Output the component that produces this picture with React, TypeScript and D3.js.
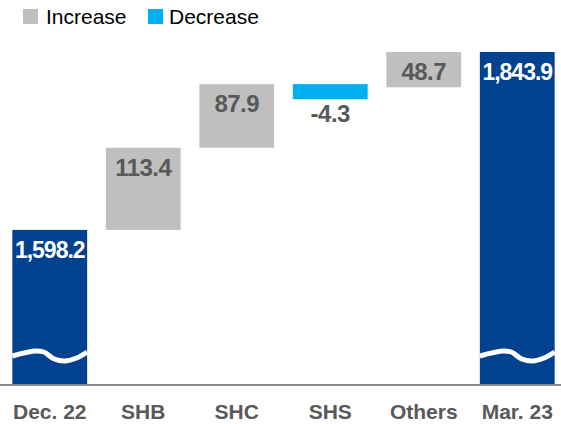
import * as d3 from "d3";

// chart data
const categories = ["Dec. 22", "SHB", "SHC", "SHS", "Others", "Mar. 23"];
const startValue = 1598.2;
const changes = [113.4, 87.9, -4.3, 48.7];
const endValue = 1843.9;
const valueLabels = ["1,598.2", "113.4", "87.9", "-4.3", "48.7", "1,843.9"];
const legendItems = ["Increase", "Decrease"];

const W = 561;
const H = 424;
const baseY = 385;
const FONT = "'Liberation Sans', Arial, sans-serif";
const GRAY = "#bfbfbf";
const CYAN = "#00b0f0";
const NAVY = "#004190";
const LABEL = "#595959";

// shape of the axis-break squiggle (fraction of bar width, px offset)
const waveShape: [number, number][] = [
  [0, 1], [0.3, -4], [0.42, -3], [0.56, 4], [0.7, 6], [0.86, 3], [1, -3],
];

type Bar = { cat: string; y0: number; y1: number; kind: "total" | "up" | "down"; label: string };

function buildBars(): Bar[] {
  const bars: Bar[] = [{ cat: categories[0], y0: 0, y1: startValue, kind: "total", label: valueLabels[0] }];
  let run = startValue;
  changes.forEach((c, i) => {
    const next = run + c;
    bars.push({ cat: categories[i + 1], y0: run, y1: next, kind: c >= 0 ? "up" : "down", label: valueLabels[i + 1] });
    run = next;
  });
  bars.push({ cat: categories[5], y0: 0, y1: endValue, kind: "total", label: valueLabels[5] });
  return bars;
}

export default function App() {
  const bars = buildBars();
  // broken axis: scale starts above zero
  const y = d3.scaleLinear().domain([1384, endValue]).range([baseY, 52]);
  const x = d3.scaleBand().domain(categories).range([3, 564]).paddingInner(0.2).paddingOuter(0.1);
  const bw = x.bandwidth();

  const wave = (x0: number, yb: number) =>
    d3
      .line<[number, number]>()
      .x((d) => x0 + d[0] * bw)
      .y((d) => yb + d[1])
      .curve(d3.curveCatmullRom)(waveShape) || "";

  return (
    <svg width={W} height={H} style={{ position: "absolute", left: 0, top: 0, background: "#fff" }} fontFamily={FONT}>
      {/* legend */}
      <rect x={23} y={9} width={15} height={15} fill={GRAY} />
      <text x={46} y={24} fontSize={21} fill="#000">{legendItems[0]}</text>
      <rect x={148} y={9} width={15} height={15} fill={CYAN} />
      <text x={169} y={24} fontSize={21} fill="#000">{legendItems[1]}</text>

      {bars.map((b) => {
        const bx = x(b.cat)!;
        const cx = bx + bw / 2;
        if (b.kind === "total") {
          const top = y(b.y1);
          return (
            <g key={b.cat}>
              <rect x={bx} y={top} width={bw} height={baseY - top} fill={NAVY} />
              <path d={wave(bx, 355)} fill="none" stroke="#fff" strokeWidth={5} />
              <text x={cx} y={top + 28} fontSize={23} fontWeight="bold" fill="#fff" textAnchor="middle" letterSpacing={-1}>
                {b.label}
              </text>
            </g>
          );
        }
        const top = y(Math.max(b.y0, b.y1));
        let h = Math.abs(y(b.y0) - y(b.y1));
        if (b.kind === "down") h = Math.max(h, 15);
        return (
          <g key={b.cat}>
            <rect x={bx} y={top} width={bw} height={h} fill={b.kind === "up" ? GRAY : CYAN} />
            <text
              x={cx}
              y={b.kind === "up" ? top + 28 : top + h + 23}
              fontSize={24}
              fontWeight="bold"
              fill={LABEL}
              textAnchor="middle"
              letterSpacing={-0.5}
            >
              {b.label}
            </text>
          </g>
        );
      })}

      <line x1={0} x2={W} y1={baseY} y2={baseY} stroke="#8c8c8c" strokeWidth={2} />
      {categories.map((c) => (
        <text key={c} x={x(c)! + bw / 2} y={419} fontSize={21} fontWeight="bold" fill={LABEL} textAnchor="middle">
          {c}
        </text>
      ))}
    </svg>
  );
}
